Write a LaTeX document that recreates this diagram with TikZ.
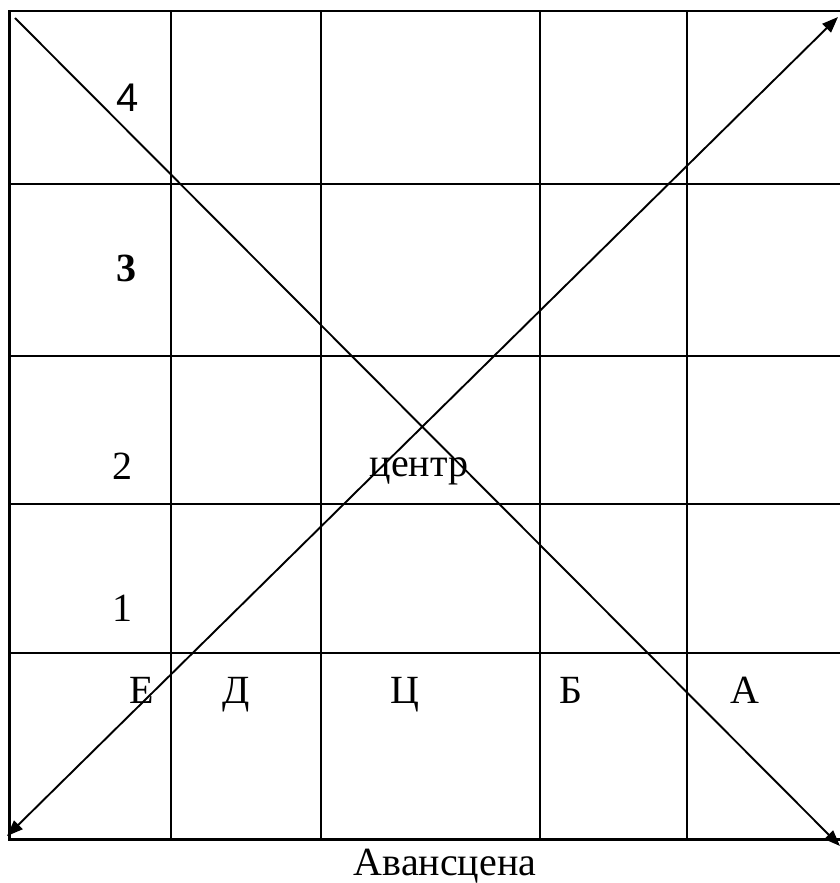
\documentclass[tikz,border=0pt]{standalone}
\usepackage{fontspec}
\setmainfont{Liberation Serif}
\newfontfamily\sansf{Liberation Sans}
\usetikzlibrary{arrows.meta}
\begin{document}
\begin{tikzpicture}[x=1pt,y=-1pt,
  gridline/.style={line width=2.2pt},
  diag/.style={line width=1.9pt},
  tip/.style={-{Triangle[length=16pt,width=12pt]}},
  lbl/.style={font=\fontsize{40}{46}\selectfont, inner sep=0pt, anchor=base}]
\useasboundingbox (0,0) rectangle (840,883);
\clip (0,0) rectangle (840,883);
\fill[white] (0,0) rectangle (840,883);
% grid
\draw[gridline] (9.5,11) rectangle (850,839.5);
\foreach \x in {171,321,540,687} \draw[gridline] (\x,11) -- (\x,839.5);
\foreach \y in {184,356,504,653} \draw[gridline] (9.5,\y) -- (850,\y);
% diagonals
\coordinate (tl) at (15,18);
\coordinate (br) at (840,846);
\coordinate (tr) at (838,17);
\coordinate (bl) at (7,836);
\draw[diag,tip] (tl) -- (br);
\draw[diag,{Triangle[length=16pt,width=12pt]}-{Triangle[length=16pt,width=12pt]}] (bl) -- (tr);
% labels
\node[lbl,font=\sansf\fontsize{40}{46}\selectfont] (r4) at (128,111) {4};
\node[lbl,font=\fontsize{40}{46}\selectfont\bfseries] (r3) at (126,281) {3};
\node[lbl] (r2) at (122,479) {2};
\node[lbl] (r1) at (122,621) {1};
\node[lbl] (ctr) at (419,476) {центр};
\node[lbl] (cE) at (142,703) {Е};
\node[lbl] (cD) at (236,703) {Д};
\node[lbl] (cC) at (405,703) {Ц};
\node[lbl] (cB) at (571,703) {Б};
\node[lbl] (cA) at (745,703) {А};
\node[lbl] (av) at (445,875) {Авансцена};
\end{tikzpicture}
\end{document}
